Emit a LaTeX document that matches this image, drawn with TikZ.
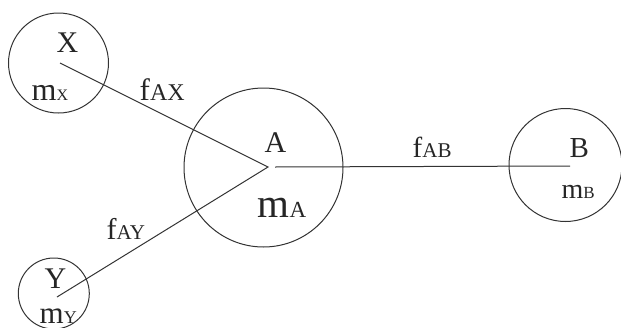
\documentclass[tikz,border=0pt]{standalone}
\usepackage{fontspec}
\setmainfont{Liberation Serif}
\newcommand{\fs}[1]{\fontsize{#1}{#1}\selectfont}
\begin{document}
\begin{tikzpicture}[x=1pt,y=-1pt,
  ring/.style={draw=black!80,line width=1pt,circle,inner sep=0pt,minimum size=#1},
  bond/.style={draw=black!80,line width=1pt},
  lbl/.style={anchor=base west,inner sep=0pt,text=black!85}]
\useasboundingbox (0,0) rectangle (621,327);
% circles
\node[ring=100pt] (X) at (58.5,63) {};
\node[ring=159pt] (A) at (263.5,167.5) {};
\node[ring=113pt] (B) at (565.5,165) {};
\node[ring=71pt] (Y) at (53.8,293.5) {};
% line end points
\coordinate (xs) at (60,63);
\coordinate (ys) at (57,297);
\coordinate (av) at (268,167);
\coordinate (ab) at (275,167);
\coordinate (be) at (570,166);
\draw[bond] (xs) -- (av) -- (ys);
\draw[bond] (ab) -- (be);
% labels
\node[lbl] (lx) at (56.5,52.7) {\fs{30}X};
\node[lbl] (lmx) at (31.5,100.7) {\fs{32}m\fs{16}X};
\node[lbl] (lfax) at (139.5,100.7) {\fs{31}f\fs{24}AX};
\node[lbl] (la) at (264.5,152.3) {\fs{30}A};
\node[lbl] (lma) at (257.5,217) {\fs{41}m\fs{23}A};
\node[lbl] (lfay) at (106.5,239.3) {\fs{30}f\fs{21}AY};
\node[lbl] (ly) at (44.5,288) {\fs{30}Y};
\node[lbl] (lmy) at (39.5,323) {\fs{31}m\fs{18}Y};
\node[lbl] (lfab) at (412.5,157) {\fs{29}f\fs{21}AB};
\node[lbl] (lb) at (569.5,157) {\fs{29}B};
\node[lbl] (lmb) at (561.5,198) {\fs{28}m\fs{17}B};
\end{tikzpicture}
\end{document}
